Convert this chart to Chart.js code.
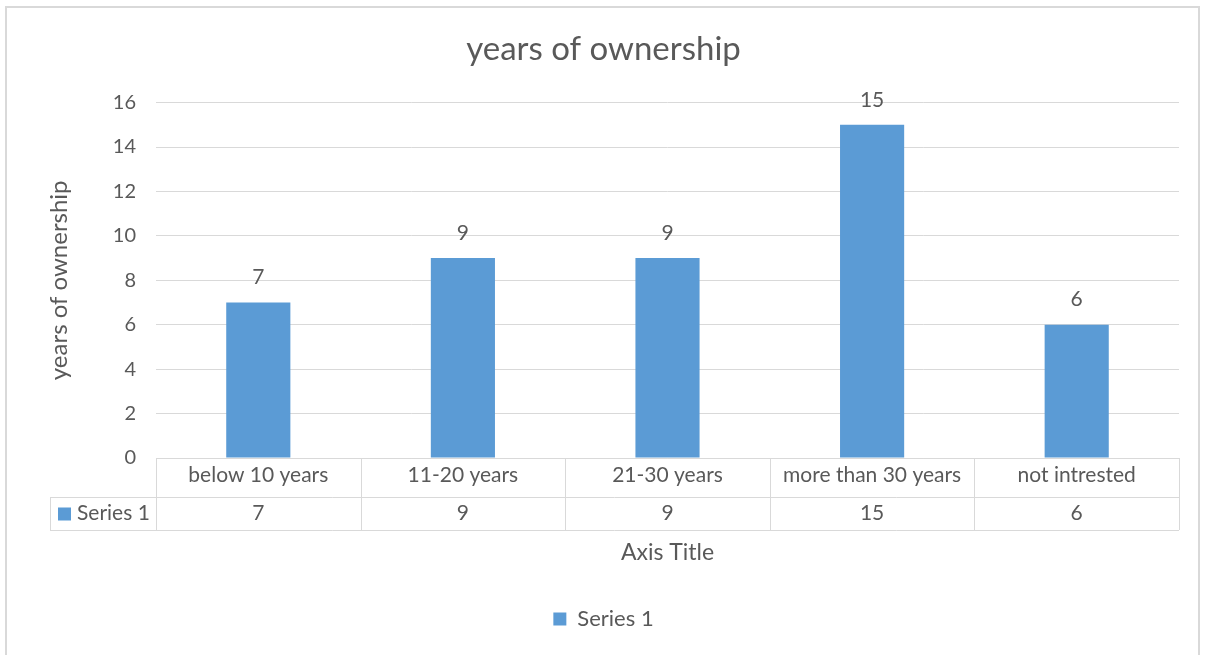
<!DOCTYPE html>
<html>
<head>
<meta charset="utf-8">
<script src="https://cdn.jsdelivr.net/npm/chart.js@4"></script>
<style>
  html, body { margin: 0; padding: 0; background: #fff; }
  #wrap { width: 1207px; height: 655px; }
</style>
</head>
<body>
<div id="wrap"><canvas id="myChart"></canvas></div>
<script>
var categories = ["below 10 years", "11-20 years", "21-30 years", "more than 30 years", "not intrested"];
var series1 = [7, 9, 9, 15, 6];
var seriesName = "Series 1";
var yMax = 16;
var yStep = 2;

var FONT = "Lato, 'Noto Sans', sans-serif";
var TEXT = "#595959";
var LINE = "#D9D9D9";
var BAR = "#5B9BD5";

// outer frame + data table under the plot
var tablePlugin = {
  id: "tablePlugin",
  beforeDraw: function (chart) {
    var c = chart.ctx;
    c.save();
    c.fillStyle = "#fff";
    c.fillRect(0, 0, chart.width, chart.height);
    c.strokeStyle = LINE;
    c.lineWidth = 2;
    c.strokeRect(6, 7, 1193, 660);
    c.restore();
  },
  afterDraw: function (chart) {
    var c = chart.ctx;
    var x = chart.scales.x;
    var area = chart.chartArea;
    var top = area.bottom;
    var mid = top + 39;
    var bot = mid + 33;
    var half = (x.getPixelForValue(1) - x.getPixelForValue(0)) / 2;
    var firstCol = 50;

    c.save();
    c.strokeStyle = LINE;
    c.lineWidth = 1;
    c.beginPath();
    c.moveTo(area.left, top + 0.5); c.lineTo(area.right, top + 0.5);
    c.moveTo(firstCol, mid + 0.5); c.lineTo(area.right, mid + 0.5);
    c.moveTo(firstCol, bot + 0.5); c.lineTo(area.right, bot + 0.5);
    c.moveTo(firstCol + 0.5, mid); c.lineTo(firstCol + 0.5, bot);
    for (var i = 0; i <= categories.length; i++) {
      var px = Math.round(x.getPixelForValue(i) - half) + 0.5;
      c.moveTo(px, top); c.lineTo(px, bot);
    }
    c.stroke();

    // series row: legend key, name and values
    var rowY = (mid + bot) / 2;
    c.fillStyle = BAR;
    c.fillRect(58, rowY - 6, 13, 13);
    c.fillStyle = TEXT;
    c.font = "21px " + FONT;
    c.textBaseline = "middle";
    c.textAlign = "left";
    c.fillText(seriesName, 77, rowY);
    c.textAlign = "center";
    for (var j = 0; j < series1.length; j++) {
      c.fillText(String(series1[j]), x.getPixelForValue(j), rowY);
    }
    c.restore();
  },
  afterDatasetsDraw: function (chart) {
    var c = chart.ctx;
    var meta = chart.getDatasetMeta(0);
    c.save();
    c.fillStyle = TEXT;
    c.font = "21px " + FONT;
    c.textAlign = "center";
    c.textBaseline = "middle";
    meta.data.forEach(function (bar, i) {
      c.fillText(String(series1[i]), bar.x, bar.y - 25);
    });
    c.restore();
  }
};

var ctx = document.getElementById("myChart").getContext("2d");
var myChart = new Chart(ctx, {
  type: "bar",
  data: {
    labels: categories,
    datasets: [
      {
        label: seriesName,
        data: series1,
        backgroundColor: BAR,
        borderWidth: 0,
        barPercentage: 0.3135,
        categoryPercentage: 1,
      },
    ],
  },
  plugins: [tablePlugin],
  options: {
    responsive: true,
    maintainAspectRatio: false,
    animation: false,
    layout: {
      padding: { left: 28, right: 28, top: 0, bottom: 15 },
    },
    plugins: {
      title: {
        display: true,
        text: "years of ownership",
        color: TEXT,
        font: { family: FONT, size: 33, weight: "normal" },
        padding: { top: 30, bottom: 33 },
      },
      legend: {
        display: true,
        position: "bottom",
        labels: {
          color: TEXT,
          boxWidth: 13,
          boxHeight: 13,
          padding: 10,
          font: { family: FONT, size: 22 },
        },
      },
      tooltip: { enabled: false },
    },
    scales: {
      x: {
        grid: { display: false, drawTicks: false },
        border: { display: false },
        ticks: {
          color: TEXT,
          padding: 5,
          font: { family: FONT, size: 21 },
        },
        title: {
          display: true,
          text: "Axis Title",
          color: TEXT,
          font: { family: FONT, size: 23 },
          padding: { top: 0, bottom: 32 },
        },
        afterFit: function (scale) {
          scale.height = 140;
        },
      },
      y: {
        min: 0,
        max: yMax,
        grid: { color: LINE, drawTicks: false },
        border: { display: false },
        ticks: {
          stepSize: yStep,
          color: TEXT,
          padding: 20,
          font: { family: FONT, size: 20 },
        },
        title: {
          display: true,
          text: "years of ownership",
          color: TEXT,
          font: { family: FONT, size: 24 },
          padding: { top: 17, bottom: 0 },
        },
        afterFit: function (scale) {
          scale.width = 128;
        },
      },
    },
  },
});
</script>
</body>
</html>
